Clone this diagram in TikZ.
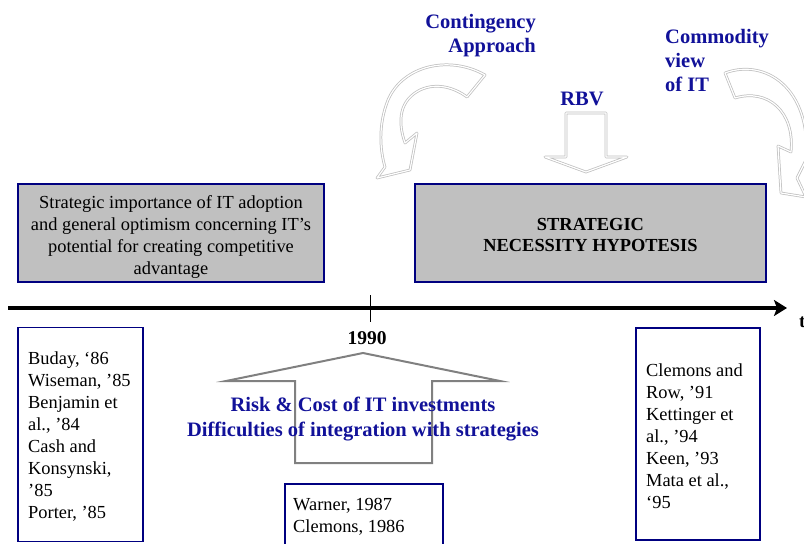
\documentclass[tikz,border=0pt]{standalone}
\usepackage{fontspec}
\setmainfont{Liberation Serif}
\usetikzlibrary{arrows.meta}
\definecolor{boxgray}{HTML}{C0C0C0}
\definecolor{navy}{HTML}{000080}
\definecolor{labelblue}{RGB}{17,17,153}
\definecolor{arrowgray}{HTML}{808080}

\begin{document}
\begin{tikzpicture}[x=1pt,y=-1pt,
  body/.style={font=\fontsize{18.4}{22}\selectfont},
  era/.style={draw=navy, line width=1.5pt, fill=boxgray, inner sep=0},
  refs/.style={draw=navy, line width=1.5pt, body, align=left, inner sep=10pt},
  theory/.style={font=\fontsize{20.5}{24}\selectfont\bfseries, text=labelblue, inner sep=0},
  bevel/.style={draw=gray!50, double=white, double distance=1.2pt, line width=0.75pt, line join=round},
]
\path[use as bounding box, clip] (0,0) rectangle (804,544);

% period boxes above the time axis
\node[era, minimum width=306pt, minimum height=98pt] (optimism) at (171,233) {};
\node[body, align=center, inner sep=0] (optimismtext) at (171,237)
  {Strategic importance of IT adoption\\and general optimism concerning IT’s\\potential for creating competitive\\advantage};
\node[era, minimum width=351pt, minimum height=98pt] (necessity) at (590.5,233) {};
\node[align=center, inner sep=0, font=\fontsize{18.4}{21}\selectfont\bfseries] (necessitytext) at (590.5,235)
  {STRATEGIC\\NECESSITY HYPOTESIS};

% theory labels
\node[theory, anchor=east, align=right] (contingency) at (536,36) {Contingency\\Approach};
\node[theory] (rbv) at (582,99) {RBV};
\node[theory, anchor=west, align=left] (commodity) at (665,60) {Commodity\\view\\of IT};

% bevelled arrows pointing at the necessity box
\draw[bevel] (485,75) .. controls (450,55) and (403,65) .. (388,100)
  .. controls (378,125) and (380,150) .. (385,167) -- (377,178) -- (410,170) -- (417,133) -- (405,143)
  .. controls (397,120) and (400,100) .. (420,90) .. controls (437,82) and (455,88) .. (467,97) -- cycle;
\draw[bevel] (566,113) -- (606,113) -- (606,157) -- (627,157) -- (586,172) -- (545,157) -- (566,157) -- cycle;
\draw[bevel] (725,73) .. controls (765,58) and (812,88) .. (806,160) -- (797,178) -- (806,197)
  -- (781,193) -- (778,146) -- (791,152) .. controls (795,112) and (768,88) .. (735,98) -- cycle;

% time axis
\coordinate (axisstart) at (8,308);
\coordinate (axisend) at (787,308);
\draw[line width=3.5pt, -{Stealth[length=13pt,width=16pt,inset=3pt]}] (axisstart) -- (axisend);
\node[font=\fontsize{19}{22}\selectfont\bfseries, anchor=west, inner sep=0] (taxis) at (799,322) {t};
\coordinate (ticktop) at (370,295);
\coordinate (tickbot) at (370,322);
\draw[line width=0.8pt] (ticktop) -- (tickbot);
\node[font=\fontsize{19.5}{22}\selectfont\bfseries, inner sep=0] (year) at (367,338) {1990};

% risk arrow below the axis
\draw[arrowgray, line width=2pt] (295,463) -- (295,381) -- (226,381) -- (363,353) -- (500,381) -- (432,381) -- (432,463) -- cycle;
\node[theory, align=center, font=\fontsize{20.5}{25}\selectfont\bfseries] (risk) at (363,419)
  {Risk \& Cost of IT investments\\Difficulties of integration with strategies};

% literature boxes
\node[refs, text width=105pt, minimum height=214pt] (early) at (80.5,434.5) {};
\node[body, align=left, anchor=west, inner sep=0] (earlytext) at (28,437)
  {Buday, ‘86\\Wiseman, ’85\\Benjamin et\\al., ’84\\Cash and\\Konsynski,\\’85\\Porter, ’85};
\node[refs, text width=104pt, minimum height=212pt] (late) at (698,434) {};
\node[body, align=left, anchor=west, inner sep=0] (latetext) at (646,436)
  {Clemons and\\Row, ’91\\Kettinger et\\al., ’94\\Keen, ’93\\Mata et al.,\\‘95};
\node[draw=navy, line width=1.5pt, minimum width=158pt, minimum height=80pt, anchor=north west, inner sep=0] (mid) at (284,483) {};
\node[body, align=left, anchor=north west, inner sep=0] (midtext) at (293,498) {Warner, 1987\\Clemons, 1986};
\end{tikzpicture}
\end{document}
